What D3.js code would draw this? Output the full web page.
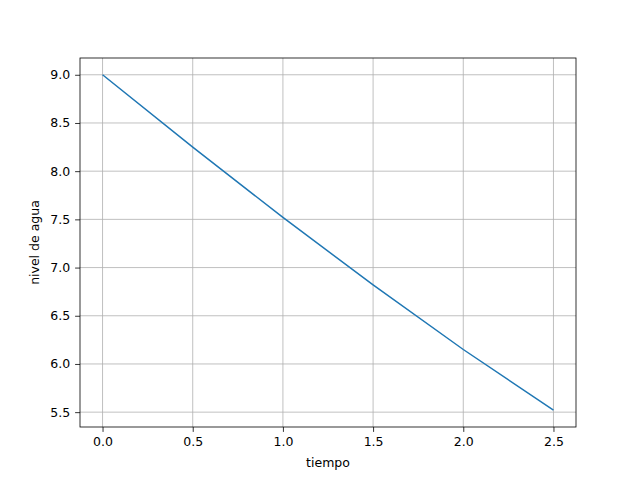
<!DOCTYPE html>
<html><head><meta charset="utf-8">
<script src="https://cdn.jsdelivr.net/npm/d3@7"></script>
<style>body{margin:0;background:#fff}</style></head>
<body><svg id="c" width="640" height="480"></svg>
<script>
const tiempo = [0, 0.5, 1.0, 1.5, 2.0, 2.5];
const nivel = [9.0, 8.25, 7.52, 6.82, 6.15, 5.52];
const xTicks = [0, 0.5, 1.0, 1.5, 2.0, 2.5];
const yTicks = [5.5, 6.0, 6.5, 7.0, 7.5, 8.0, 8.5, 9.0];
const L=80,R=576,T=58,B=427;
const svg=d3.select("#c");
const x=d3.scaleLinear().domain([-0.125,2.625]).range([L,R]);
const y=d3.scaleLinear().domain([5.346,9.174]).range([B,T]);
const g=svg.append("g");
g.selectAll(".gx").data(xTicks).enter().append("line").attr("x1",d=>x(d)).attr("x2",d=>x(d)).attr("y1",T).attr("y2",B).attr("stroke","#b0b0b0").attr("stroke-width",0.8);
g.selectAll(".gy").data(yTicks).enter().append("line").attr("y1",d=>y(d)).attr("y2",d=>y(d)).attr("x1",L).attr("x2",R).attr("stroke","#b0b0b0").attr("stroke-width",0.8);
svg.append("path").datum(tiempo.map((t,i)=>[t,nivel[i]])).attr("d",d3.line().x(d=>x(d[0])).y(d=>y(d[1]))).attr("fill","none").attr("stroke","#1f77b4").attr("stroke-width",1.5);
svg.append("rect").attr("x",L).attr("y",T).attr("width",R-L).attr("height",B-T).attr("fill","none").attr("stroke","#000").attr("stroke-width",0.8);
const xa=svg.append("g").attr("transform",`translate(0,${B})`).call(d3.axisBottom(x).tickValues(xTicks).tickFormat(d3.format(".1f")).tickSize(4.9).tickPadding(4.9));
const ya=svg.append("g").attr("transform",`translate(${L},0)`).call(d3.axisLeft(y).tickValues(yTicks).tickFormat(d3.format(".1f")).tickSize(4.9).tickPadding(4.9));
[xa,ya].forEach(a=>{a.select(".domain").remove();a.selectAll("text").attr("font-family","DejaVu Sans").attr("font-size",13.9).attr("fill","#000");a.selectAll("line").attr("stroke","#000").attr("stroke-width",0.8);});
xa.selectAll("text").attr("font-size",12.5);
ya.selectAll("text").attr("font-size",12.5);
svg.append("text").attr("x",(L+R)/2).attr("y",467).attr("text-anchor","middle").attr("font-family","DejaVu Sans").attr("font-size",12.5).text("tiempo");
svg.append("text").attr("transform",`translate(39,${(T+B)/2}) rotate(-90)`).attr("text-anchor","middle").attr("font-family","DejaVu Sans").attr("font-size",12.5).text("nivel de agua");
</script></body></html>
